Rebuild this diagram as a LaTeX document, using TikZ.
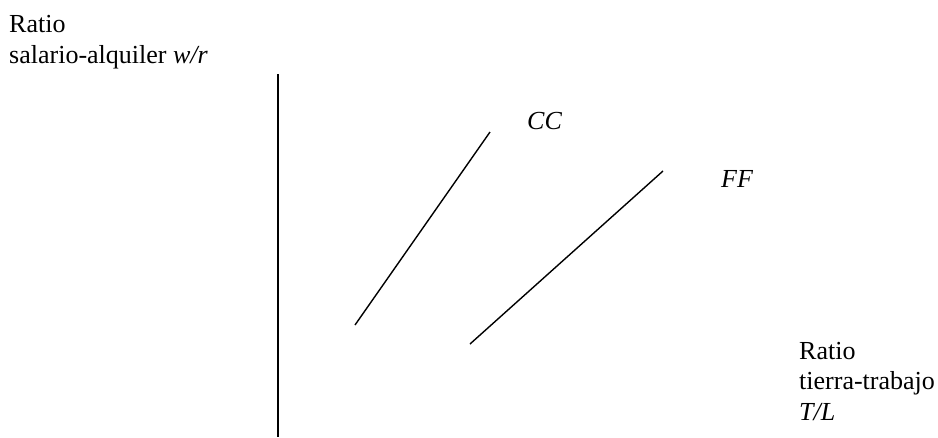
\documentclass[tikz,border=0pt]{standalone}
\usepackage{fontspec}
\setmainfont{Liberation Serif}
\begin{document}
\begin{tikzpicture}[x=1pt,y=-1pt,
  lbl/.style={anchor=base west,inner sep=0pt,font=\fontsize{26}{31}\selectfont},
  curve/.style={line width=1.4pt}]
\useasboundingbox (0,0) rectangle (938,437);
% axis
\coordinate (axtop) at (278,74);
\coordinate (axbot) at (278,437);
\draw[curve] (axtop) -- (axbot);
% curves
\coordinate (cc1) at (355,325);
\coordinate (cc2) at (490,132);
\coordinate (ff1) at (470,344);
\coordinate (ff2) at (663,171);
\draw[curve] (cc1) -- (cc2);
\draw[curve] (ff1) -- (ff2);
% labels
\node[lbl] (yl1) at (9,32) {Ratio};
\node[lbl] (yl2) at (9,63) {salario-alquiler \textit{w/r}};
\node[lbl] (cc) at (527,129) {\textit{CC}};
\node[lbl] (ff) at (721,187) {\textit{FF}};
\node[lbl] (xl1) at (799,359) {Ratio};
\node[lbl] (xl2) at (799,389) {tierra-trabajo};
\node[lbl] (xl3) at (799,420) {\textit{T/L}};
\end{tikzpicture}
\end{document}
